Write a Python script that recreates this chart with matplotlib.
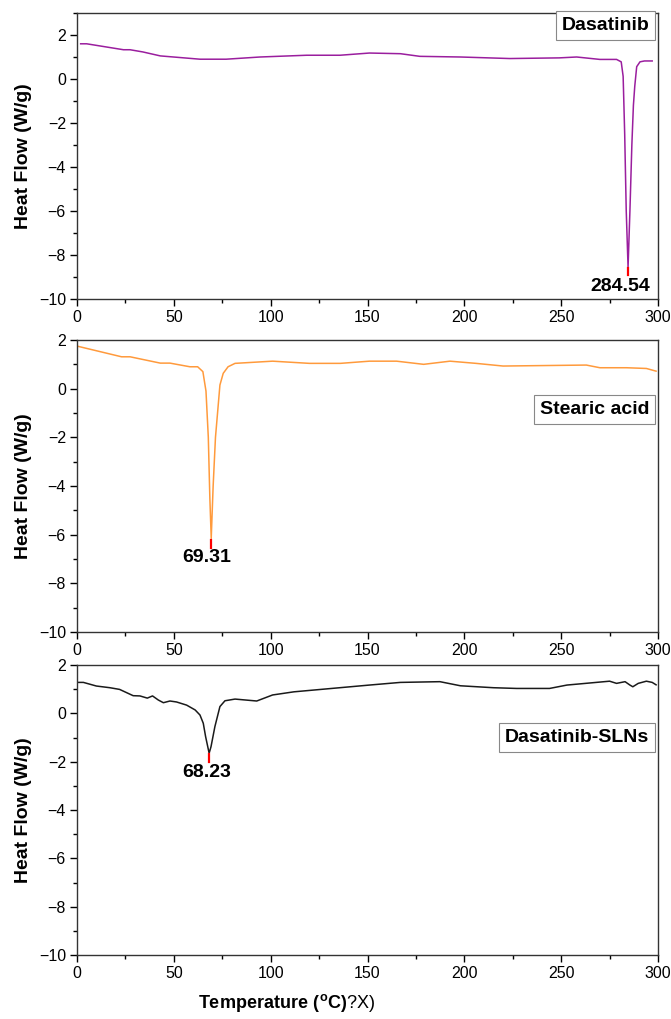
import matplotlib
matplotlib.use("Agg")
import matplotlib.pyplot as plt
from matplotlib.ticker import MultipleLocator

plt.rcParams['font.family'] = ['Liberation Sans', 'DejaVu Sans']
plt.rcParams['mathtext.fontset'] = 'custom'
plt.rcParams['mathtext.rm'] = 'Liberation Sans'
plt.rcParams['mathtext.bf'] = 'Liberation Sans:bold'

# Dasatinib
x_dasa = [1.9, 5, 24, 27.4, 34, 43, 63.5, 77, 94.5, 118.6, 135.8, 151, 167, 177, 198,
          223.5, 249, 258, 270, 278.6, 281, 282, 282.8, 283.6, 284.54, 285.5, 286.5,
          287.3, 288, 289, 290.7, 293, 297]
y_dasa = [1.6, 1.6, 1.33, 1.33, 1.23, 1.05, 0.9, 0.9, 1.0, 1.08, 1.08, 1.18, 1.15, 1.03, 1.0,
          0.93, 0.96, 1.0, 0.89, 0.89, 0.78, 0.12, -2.5, -6.0, -8.55, -6.0, -3.0,
          -1.2, -0.33, 0.56, 0.78, 0.82, 0.82]

# Stearic acid
x_stea = [0, 23, 27.4, 43, 48, 58.3, 62.3, 65, 66.6, 67.8, 68.6, 69.31, 70.3, 71.5, 73,
          73.8, 75.5, 78, 81.6, 101, 120, 136, 151, 165, 179, 192.6, 206, 220, 263, 270,
          283.8, 294, 299]
y_stea = [1.75, 1.31, 1.31, 1.05, 1.05, 0.9, 0.9, 0.7, -0.1, -2.0, -4.5, -6.15, -4.0, -2.0, -0.6,
          0.15, 0.63, 0.9, 1.04, 1.13, 1.04, 1.04, 1.13, 1.13, 1.0, 1.13, 1.04, 0.93, 0.97, 0.86,
          0.86, 0.83, 0.72]

# Dasatinib-SLNs
x_sln = [0, 3.3, 10, 17, 22, 29, 32.5, 36.3, 39, 42, 44.6, 48, 51.4, 56.6, 61, 63.5, 65.2,
         66.4, 68.23, 69.2, 71.2, 73.8, 76.4, 81.6, 92.8, 101, 112, 151, 167, 187.4, 198,
         215, 227, 244, 253, 275, 278.6, 283, 285.5, 287, 289.8, 294, 297, 299]
y_sln = [1.28, 1.28, 1.13, 1.06, 0.99, 0.73, 0.72, 0.63, 0.72, 0.55, 0.44, 0.51, 0.47, 0.34,
         0.14, -0.07, -0.41, -0.96, -1.65, -1.38, -0.55, 0.28, 0.52, 0.59, 0.51, 0.76, 0.89,
         1.17, 1.28, 1.31, 1.14, 1.06, 1.03, 1.03, 1.17, 1.33, 1.24, 1.31, 1.17, 1.1, 1.24,
         1.33, 1.28, 1.18]

names = ['Dasatinib', 'Stearic acid', 'Dasatinib-SLNs']
peaks = [284.54, 69.31, 68.23]
peak_y = [-8.55, -6.15, -1.65]
label_xy = [(280.3, -9.45), (67.1, -6.93), (67.1, -2.46)]
box_xy = [(0.985, 0.985), (0.985, 0.79), (0.985, 0.78)]
colors = ['#9a1e9e', '#ff9a3c', '#1a1a1a']
ylims = [(-10, 3), (-10, 2), (-10, 2)]
xs = [x_dasa, x_stea, x_sln]
ys = [y_dasa, y_stea, y_sln]

W, H = 671, 1019
fig = plt.figure(figsize=(W / 100, H / 100), dpi=100)
panels = [(13, 299), (340, 632), (665, 955)]
left, right = 77, 658

for i, (top, bot) in enumerate(panels):
    ax = fig.add_axes([left / W, 1 - bot / H, (right - left) / W, (bot - top) / H])
    ax.plot(xs[i], ys[i], color=colors[i], lw=1.1)
    ax.plot([peaks[i], peaks[i]], [peak_y[i] - 0.05, peak_y[i] - 0.38], color='red', lw=1.6)
    ax.text(label_xy[i][0], label_xy[i][1], f"{peaks[i]:.2f}", fontsize=14, fontweight='bold',
            ha='center', va='center')
    ax.text(box_xy[i][0], box_xy[i][1], names[i], transform=ax.transAxes, fontsize=14,
            fontweight='bold', ha='right', va='top',
            bbox=dict(boxstyle='square,pad=0.3', fc='white', ec='#888888', lw=0.8))
    ax.set_xlim(0, 300)
    ax.set_ylim(*ylims[i])
    ax.xaxis.set_major_locator(MultipleLocator(50))
    ax.xaxis.set_minor_locator(MultipleLocator(25))
    ax.yaxis.set_major_locator(MultipleLocator(2))
    ax.yaxis.set_minor_locator(MultipleLocator(1))
    ax.tick_params(which='major', direction='out', length=5, width=1, labelsize=11.5, pad=3)
    ax.tick_params(which='minor', direction='out', length=3, width=1)
    for s in ax.spines.values():
        s.set_linewidth(1.0)
        s.set_color('#333333')
    ax.set_ylabel('Heat Flow (W/g)', fontsize=14, fontweight='bold', labelpad=5)

fig.text(287 / W, 1 - 1003 / H, r"$\mathbf{Temperature\ (^{o}C)}\mathrm{?X)}$",
         fontsize=13, ha='center', va='center')

fig.savefig('out.png', dpi=100)
